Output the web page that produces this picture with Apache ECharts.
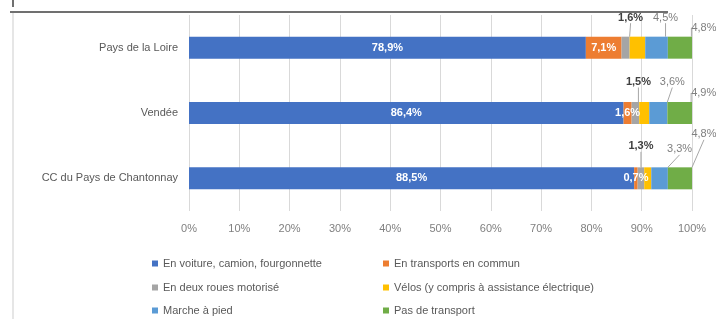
<!DOCTYPE html>
<html>
<head>
<meta charset="utf-8">
<script src="https://cdn.jsdelivr.net/npm/echarts@6/dist/echarts.min.js"></script>
<style>
html,body{margin:0;padding:0;background:#fff;}
#main{width:716px;height:319px;}
</style>
</head>
<body>
<div id="main"></div>
<script>
// territoires (du haut vers le bas)
var territoires=["Pays de la Loire","Vendée","CC du Pays de Chantonnay"];

// parts modales en %
var voiture=[78.9,86.4,88.5];
var transportsCommun=[7.1,1.6,0.7];
var deuxRoues=[1.6,1.5,1.3];
var velos=[3.1,2.0,1.4];
var marche=[4.5,3.6,3.3];
var pasTransport=[4.8,4.9,4.8];

var axeTicks=[0,10,20,30,40,50,60,70,80,90,100];

var nomsSeries=[
    "En voiture, camion, fourgonnette",
    "En transports en commun",
    "En deux roues motorisé",
    "Vélos (y compris à assistance électrique)",
    "Marche à pied",
    "Pas de transport"
];
var couleurs=["#4472C4","#ED7D31","#A5A5A5","#FFC000","#5B9BD5","#70AD47"];

//décalage des étiquettes sorties de la barre (dx,dy) par série puis territoire
var decalages={
    2:[[5,-30],[3,-31],[0,-32]],
    4:[[9,-30],[14,-31],[20,-29]],
    5:[[24,-20],[24,-20],[24,-44]]
};

function fmt(v){
    return v.toFixed(1).replace(".",",")+"%";
}

var valeurs=[voiture,transportsCommun,deuxRoues,velos,marche,pasTransport];
var series=[];
for(var i=0;i<valeurs.length;i++){
    var dedans=(i==0||i==1);
    var dehors=(i==2||i==4||i==5);
    var s={
        name:nomsSeries[i],
        type:"bar",
        stack:"total",
        barWidth:22,
        data:valeurs[i],
        itemStyle:{color:couleurs[i]},
        emphasis:{disabled:true},
        label:{
            show:dedans||dehors,
            formatter:function(p){return fmt(p.value);},
            fontFamily:"Liberation Sans",
            fontSize:11,
            color:dedans?"#ffffff":(i==2?"#404040":"#808080"),
            fontWeight:(dedans||i==2)?"bold":"normal"
        }
    };
    if(dehors){
        (function(idx){
            s.labelLine={show:true,lineStyle:{color:"#A6A6A6",width:1}};
            s.labelLayout=function(params){
                var d=decalages[idx][params.dataIndex];
                return {dx:d[0],dy:d[1]};
            };
        })(i);
    }
    series.push(s);
}

var textStyleLegende={fontFamily:"Liberation Sans",fontSize:11,color:"#595959"};

//une légende par entrée : deux colonnes, trois lignes
var colonnesLegende=[152,383];
var lignesLegende=[258,282,305];
var legendes=[];
for(var k=0;k<nomsSeries.length;k++){
    legendes.push({
        left:colonnesLegende[k%2],
        top:lignesLegende[Math.floor(k/2)],
        padding:0,
        itemWidth:6,
        itemHeight:6,
        itemGap:4,
        icon:"rect",
        selectedMode:false,
        textStyle:textStyleLegende,
        data:[nomsSeries[k]]
    });
}

var option={
    animation:false,
    color:couleurs,
    grid:{left:189,right:24,top:15,bottom:108},
    xAxis:{
        type:"value",
        min:0,
        max:100,
        interval:10,
        axisLine:{show:false},
        axisTick:{show:false},
        splitLine:{show:true,lineStyle:{color:"#D9D9D9",width:1}},
        axisLabel:{
            margin:12,
            fontFamily:"Liberation Sans",
            fontSize:11,
            color:"#808080",
            formatter:function(v){return axeTicks.indexOf(v)>=0?v+"%":"";}
        }
    },
    yAxis:{
        type:"category",
        inverse:true,
        data:territoires,
        axisLine:{show:false},
        axisTick:{show:false},
        axisLabel:{margin:11,fontFamily:"Liberation Sans",fontSize:11,color:"#595959"}
    },
    legend:legendes,
    graphic:[
        {type:"line",shape:{x1:10,y1:12,x2:668,y2:12},style:{stroke:"#404040",lineWidth:1.5}},
        {type:"line",shape:{x1:13,y1:0,x2:13,y2:7},style:{stroke:"#404040",lineWidth:1.5}},
        {type:"line",shape:{x1:13,y1:13,x2:13,y2:319},style:{stroke:"#E6E6E6",lineWidth:2}}
    ],
    series:series
};

var myChart=echarts.init(document.getElementById("main"));
myChart.setOption(option);
</script>
</body>
</html>
